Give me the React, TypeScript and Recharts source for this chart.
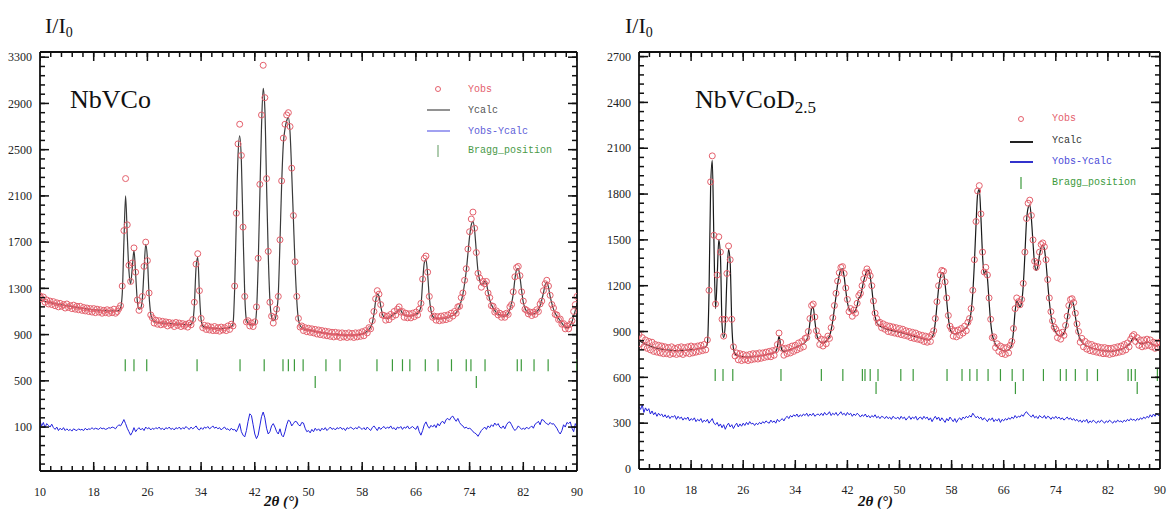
import React from "react";
import { ComposedChart, Line, Scatter, XAxis, YAxis } from "recharts";

// 2theta grid of the refinement: 10..90 in steps of 0.25
const START = 10;
const STEP = 0.25;

// ---------- NbVCo ----------
const calcNbVCo = [
  1200, 1196, 1192, 1188, 1185, 1182, 1178, 1174,
  1170, 1167, 1165, 1162, 1160, 1157, 1155, 1152,
  1150, 1147, 1145, 1142, 1140, 1137, 1135, 1132,
  1130, 1128, 1126, 1124, 1122, 1120, 1118, 1116,
  1115, 1114, 1113, 1112, 1110, 1109, 1108, 1107,
  1106, 1105, 1105, 1105, 1105, 1105, 1106, 1110,
  1130, 1250, 1700, 2100, 1760, 1450, 1340, 1480,
  1630, 1420, 1190, 1120, 1130, 1210, 1460, 1680,
  1560, 1240, 1080, 1030, 1012, 1008, 1005, 1003,
  1002, 1000, 999, 998, 997, 996, 995, 994,
  993, 992, 991, 990, 989, 988, 987, 986,
  985, 984, 990, 1010, 1160, 1480, 1570, 1260,
  1030, 975, 965, 962, 960, 958, 957, 956,
  955, 954, 953, 952, 952, 952, 953, 955,
  958, 962, 970, 990, 1300, 1900, 2450, 2620,
  2400, 1800, 1250, 1030, 1000, 990, 985, 985,
  990, 1100, 1500, 2100, 2700, 3030, 2850, 2200,
  1600, 1200, 1050, 1020, 1030, 1100, 1250, 1700,
  2200, 2550, 2680, 2750, 2780, 2650, 2300, 1900,
  1500, 1200, 1030, 980, 960, 950, 945, 942,
  940, 937, 934, 931, 928, 925, 922, 920,
  918, 915, 913, 911, 909, 907, 905, 903,
  902, 900, 899, 898, 897, 896, 895, 895,
  895, 895, 896, 897, 898, 899, 900, 903,
  906, 910, 918, 930, 945, 965, 1000, 1080,
  1190, 1250, 1235, 1150, 1080, 1050, 1040, 1040,
  1045, 1055, 1070, 1080, 1085, 1100, 1120, 1110,
  1085, 1070, 1065, 1060, 1060, 1062, 1065, 1070,
  1075, 1085, 1100, 1150, 1350, 1520, 1550, 1420,
  1220, 1110, 1060, 1045, 1040, 1038, 1037, 1037,
  1038, 1040, 1043, 1047, 1052, 1058, 1065, 1075,
  1090, 1110, 1150, 1190, 1250, 1340, 1450, 1600,
  1750, 1850, 1880, 1800, 1620, 1450, 1370, 1330,
  1340, 1360, 1340, 1270, 1200, 1160, 1130, 1110,
  1090, 1080, 1070, 1065, 1060, 1062, 1070, 1085,
  1120, 1170, 1250, 1380, 1460, 1470, 1400, 1280,
  1180, 1130, 1100, 1090, 1080, 1078, 1080, 1085,
  1100, 1115, 1150, 1200, 1260, 1330, 1350, 1310,
  1230, 1170, 1120, 1085, 1060, 1040, 1020, 1000,
  980, 965, 960, 962, 980, 1010, 1060, 1110,
  1160,
];

const obsNbVCo = [
  1235, 1210, 1225, 1180, 1200, 1165, 1190, 1160,
  1185, 1150, 1175, 1140, 1170, 1145, 1160, 1130,
  1165, 1135, 1150, 1125, 1155, 1120, 1145, 1115,
  1145, 1110, 1135, 1105, 1130, 1100, 1125, 1095,
  1125, 1090, 1120, 1095, 1115, 1085, 1110, 1090,
  1115, 1085, 1110, 1090, 1120, 1085, 1100, 1125,
  1150, 1320, 1800, 2250, 1850, 1500, 1360, 1520,
  1650, 1440, 1200, 1110, 1150, 1230, 1490, 1700,
  1540, 1260, 1070, 1045, 1000, 1025, 990, 1020,
  985, 1015, 990, 1010, 975, 1005, 985, 1000,
  970, 1005, 980, 1000, 970, 995, 975, 990,
  965, 1000, 985, 1030, 1180, 1510, 1600, 1280,
  1040, 960, 980, 945, 975, 940, 965, 935,
  970, 935, 960, 930, 965, 940, 960, 935,
  975, 945, 990, 975, 1320, 1950, 2550, 2720,
  2450, 1830, 1230, 1010, 1020, 975, 1000, 970,
  1010, 1140, 1560, 2200, 2800, 3230, 2950, 2250,
  1620, 1180, 1060, 1000, 1050, 1120, 1230, 1720,
  2230, 2600, 2720, 2800, 2820, 2700, 2340, 1930,
  1530, 1230, 1040, 965, 975, 935, 960, 925,
  955, 920, 950, 915, 945, 905, 940, 900,
  935, 895, 930, 890, 925, 885, 920, 880,
  920, 885, 915, 875, 915, 880, 910, 875,
  915, 880, 910, 875, 915, 880, 915, 885,
  925, 890, 935, 915, 960, 950, 1020, 1100,
  1210, 1280, 1250, 1160, 1070, 1065, 1025, 1060,
  1030, 1075, 1055, 1100, 1070, 1120, 1140, 1095,
  1100, 1050, 1085, 1045, 1080, 1045, 1085, 1055,
  1095, 1070, 1120, 1170, 1380, 1560, 1580, 1440,
  1230, 1120, 1050, 1060, 1025, 1055, 1020, 1060,
  1025, 1065, 1030, 1070, 1040, 1085, 1060, 1100,
  1085, 1140, 1145, 1220, 1260, 1370, 1470, 1640,
  1790, 1900, 1960, 1820, 1610, 1430, 1390, 1310,
  1360, 1340, 1360, 1260, 1220, 1150, 1145, 1095,
  1105, 1070, 1085, 1050, 1075, 1050, 1085, 1075,
  1140, 1160, 1270, 1400, 1480, 1490, 1410, 1270,
  1190, 1120, 1110, 1080, 1095, 1065, 1095, 1075,
  1115, 1100, 1165, 1190, 1280, 1340, 1370, 1320,
  1240, 1160, 1130, 1075, 1070, 1030, 1035, 990,
  995, 950, 975, 950, 990, 1020, 1100, 1160,
  1230,
];

// Yobs-Ycalc, drawn with its own offset (~100)
const diffNbVCo = [
  150, 110, 140, 95, 130, 115, 100, 125,
  95, 80, 100, 70, 90, 75, 95, 70,
  85, 70, 80, 65, 85, 75, 70, 85,
  75, 80, 70, 90, 75, 85, 80, 95,
  80, 90, 85, 80, 95, 85, 90, 80,
  85, 95, 90, 100, 95, 85, 105, 120,
  110, 135, 165, 130, 90, 60, 30, 55,
  95, 60, 80, 95, 75, 90, 70, 100,
  85, 95, 75, 90, 80, 95, 85, 100,
  80, 90, 75, 95, 85, 100, 80, 90,
  75, 95, 85, 100, 80, 95, 85, 105,
  90, 80, 100, 85, 95, 110, 85, 75,
  95, 80, 100, 90, 105, 85, 95, 110,
  90, 100, 85, 95, 75, 90, 100, 80,
  85, 70, 90, 75, 80, 60, 90, 130,
  60, 30, 15, 70, 150, 215, 200, 120,
  40, 0, 30, 110, 190, 230, 180, 90,
  40, 60, 110, 130, 100, 60, 40, 85,
  30, 15, 60, 120, 160, 150, 110, 130,
  150, 145, 120, 110, 140, 135, 90, 60,
  70, 50, 80, 60, 90, 70, 85, 65,
  90, 75, 95, 70, 85, 100, 80, 90,
  75, 95, 85, 100, 80, 90, 70, 95,
  85, 100, 90, 80, 95, 85, 105, 90,
  80, 95, 75, 100, 85, 70, 95, 110,
  90, 70, 100, 80, 95, 105, 85, 100,
  90, 110, 85, 95, 75, 100, 90, 105,
  80, 100, 90, 110, 85, 95, 105, 90,
  80, 110, 60, 30, 70, 120, 145, 110,
  90, 115, 100, 120, 95, 130, 110, 140,
  150, 130, 165, 175, 160, 185, 195, 170,
  150, 175, 140, 120, 110, 90, 100, 85,
  90, 80, 60, 50, 40, 20, 45, 70,
  85, 100, 80, 110, 95, 120, 105, 135,
  115, 130, 100, 90, 110, 85, 120, 140,
  145, 120, 90, 70, 85, 110, 95, 80,
  90, 80, 100, 85, 95, 110, 90, 125,
  135, 150, 120, 165, 160, 140, 130, 120,
  140, 125, 130, 110, 90, 60, 40, 70,
  120, 100, 140, 130, 145, 90, 60, 130,
  100,
];

const braggNbVCo = [
  22.7, 24.0, 25.9, 33.4, 39.8, 43.4, 46.2, 47.0, 47.9, 49.2, 52.6, 54.7,
  60.2, 62.5, 64.0, 65.1, 67.4, 69.3, 71.3, 73.5, 74.2, 76.3, 81.1, 81.7,
  83.6, 85.7, 90.0,
];
const braggNbVCo2 = [51.0, 75.0];

// ---------- NbVCoD2.5 ----------
const calcD = [
  840, 835, 828, 822, 816, 812, 808, 804,
  800, 797, 794, 791, 789, 787, 785, 783,
  781, 780, 779, 778, 777, 776, 775, 775,
  775, 775, 776, 776, 777, 778, 779, 780,
  781, 782, 783, 784, 786, 788, 790, 792,
  795, 800, 820, 1150, 1850, 2020, 1500, 1050,
  1250, 1500, 1400, 950, 860, 950, 1250, 1440,
  1350, 950, 790, 755, 745, 740, 738, 736,
  735, 734, 733, 733, 733, 734, 735, 736,
  737, 738, 740, 742, 744, 746, 748, 750,
  752, 755, 758, 762, 768, 800, 870, 810,
  775, 770, 772, 775, 778, 782, 786, 790,
  795, 800, 805, 810, 815, 820, 830, 845,
  880, 960, 1050, 1060, 970, 890, 850, 835,
  828, 826, 830, 838, 850, 870, 910, 970,
  1050, 1130, 1210, 1270, 1305, 1310, 1260, 1170,
  1090, 1050, 1030, 1020, 1025, 1040, 1070, 1120,
  1130, 1180, 1230, 1270, 1295, 1300, 1260, 1180,
  1080, 1000, 960, 945, 935, 930, 925, 920,
  915, 912, 910, 908, 905, 902, 900, 897,
  895, 892, 890, 887, 884, 881, 878, 875,
  872, 869, 866, 863, 860, 857, 855, 852,
  850, 848, 846, 850, 862, 890, 960, 1070,
  1180, 1250, 1285, 1280, 1210, 1100, 990, 920,
  895, 888, 885, 886, 890, 895, 900, 908,
  915, 925, 940, 970, 1030, 1150, 1350, 1600,
  1800, 1830, 1650, 1400, 1270, 1300, 1250, 1100,
  960, 880, 840, 815, 800, 790, 782, 778,
  775, 772, 775, 780, 790, 820, 900, 1030,
  1100, 1080, 1060, 1090, 1200, 1400, 1620, 1710,
  1730, 1640, 1480, 1340, 1300, 1330, 1400, 1450,
  1465, 1440, 1350, 1220, 1100, 1010, 950, 915,
  895, 880, 872, 870, 875, 890, 920, 980,
  1050, 1090, 1100, 1070, 1000, 930, 880, 850,
  832, 820, 812, 805, 800, 796, 792, 789,
  786, 783, 781, 779, 777, 775, 774, 773,
  772, 771, 771, 772, 773, 775, 777, 780,
  783, 787, 792, 798, 806, 815, 830, 850,
  862, 855, 840, 828, 822, 820, 822, 826,
  830, 828, 824, 818, 812, 808, 806, 808,
  812,
];

const obsD = [
  880, 820, 860, 800, 845, 790, 835, 780,
  830, 770, 815, 765, 810, 760, 805, 755,
  800, 755, 795, 750, 800, 755, 790, 750,
  795, 755, 800, 750, 795, 760, 800, 755,
  805, 760, 800, 765, 805, 770, 810, 775,
  815, 780, 845, 1170, 1880, 2050, 1530, 1080,
  1270, 1520, 1420, 980, 870, 980, 1280, 1460,
  1370, 980, 800, 740, 760, 715, 755, 710,
  750, 715, 745, 710, 750, 715, 755, 720,
  755, 720, 760, 725, 760, 730, 765, 735,
  770, 735, 775, 745, 780, 815, 890, 830,
  790, 745, 790, 755, 795, 760, 805, 770,
  810, 780, 825, 790, 835, 800, 855, 860,
  900, 985, 1070, 1080, 995, 905, 870, 815,
  850, 805, 845, 820, 870, 855, 925, 990,
  1070, 1150, 1230, 1285, 1320, 1325, 1280, 1185,
  1110, 1030, 1050, 1000, 1040, 1020, 1085, 1135,
  1150, 1200, 1245, 1285, 1310, 1290, 1265, 1200,
  1100, 1020, 985, 955, 960, 925, 950, 915,
  940, 900, 935, 895, 930, 890, 925, 885,
  920, 880, 915, 875, 905, 870, 900, 860,
  895, 855, 890, 850, 880, 845, 875, 835,
  870, 830, 865, 835, 880, 905, 985, 1095,
  1200, 1270, 1300, 1295, 1225, 1120, 1005, 935,
  915, 870, 905, 865, 910, 875, 920, 890,
  935, 905, 960, 985, 1050, 1170, 1370, 1620,
  1820, 1855, 1670, 1420, 1290, 1320, 1270, 1120,
  980, 860, 865, 795, 820, 770, 805, 755,
  795, 750, 795, 760, 810, 835, 920, 1050,
  1120, 1095, 1075, 1110, 1215, 1420, 1640, 1740,
  1760, 1660, 1500, 1360, 1320, 1350, 1420, 1470,
  1480, 1455, 1370, 1240, 1120, 1030, 970, 930,
  915, 860, 890, 850, 895, 875, 940, 1000,
  1070, 1110, 1115, 1090, 1020, 950, 900, 830,
  855, 800, 835, 785, 820, 775, 815, 770,
  805, 765, 800, 760, 795, 755, 795, 755,
  790, 750, 790, 755, 795, 760, 800, 765,
  805, 770, 815, 780, 825, 800, 850, 870,
  880, 835, 860, 810, 845, 800, 845, 805,
  850, 810, 845, 800, 830, 790, 825, 795,
  830,
];

const diffD = [
  410, 390, 420, 370, 400, 380, 395, 360,
  380, 355, 370, 345, 365, 350, 360, 340,
  355, 335, 350, 330, 345, 340, 350, 325,
  345, 330, 340, 320, 335, 325, 340, 315,
  330, 320, 335, 310, 325, 315, 330, 305,
  320, 310, 325, 300, 315, 330, 300, 290,
  305, 280, 295, 270, 290, 260, 285, 300,
  275, 290, 265, 285, 300, 275, 295, 280,
  300, 285, 305, 290, 310, 295, 300, 285,
  300, 290, 305, 295, 310, 300, 315, 305,
  300, 320, 305, 315, 300, 325, 310, 320,
  330, 315, 335, 345, 330, 350, 340, 355,
  345, 360, 340, 355, 345, 360, 350, 365,
  345, 360, 350, 365, 345, 355, 360, 350,
  365, 350, 370, 355, 360, 375, 350, 365,
  355, 370, 350, 360, 375, 355, 365, 350,
  370, 355, 365, 345, 360, 350, 365, 355,
  340, 355, 345, 360, 340, 350, 335, 350,
  340, 355, 335, 345, 330, 345, 340, 330,
  345, 330, 340, 325, 345, 335, 330, 340,
  325, 345, 330, 340, 320, 335, 345, 325,
  340, 330, 345, 320, 335, 340, 325, 345,
  330, 340, 320, 335, 310, 330, 345, 325,
  340, 315, 335, 320, 305, 330, 315, 340,
  325, 310, 330, 305, 325, 335, 320, 340,
  330, 345, 335, 350, 340, 365, 350, 335,
  345, 330, 340, 320, 335, 325, 310, 330,
  320, 335, 310, 325, 315, 330, 305, 325,
  315, 330, 320, 335, 325, 340, 330, 350,
  335, 345, 340, 355, 345, 365, 375, 360,
  350, 340, 355, 335, 345, 330, 350, 340,
  335, 350, 330, 345, 340, 325, 340, 330,
  345, 330, 340, 325, 335, 320, 330, 340,
  325, 335, 320, 330, 315, 325, 310, 320,
  305, 320, 310, 325, 300, 315, 305, 320,
  310, 300, 315, 305, 320, 310, 300, 315,
  305, 320, 310, 300, 315, 305, 320, 310,
  315, 305, 320, 310, 325, 315, 330, 320,
  325, 315, 330, 320, 335, 325, 340, 330,
  345, 335, 355, 340, 360, 345, 365, 350,
  355,
];

const braggD = [
  21.7, 22.9, 24.4, 31.8, 38.0, 41.3, 44.3, 44.7, 45.5, 46.7, 50.2, 52.1,
  57.3, 59.6, 60.8, 61.9, 63.6, 65.5, 67.3, 69.0, 72.1, 74.7, 75.6, 77.0,
  78.8, 80.4, 85.1, 85.6, 86.2, 89.6,
];
const braggD2 = [46.4, 67.8, 86.5];

// ---------- axes ----------
const xMajor = [10, 18, 26, 34, 42, 50, 58, 66, 74, 82, 90];
const xMinor = Array.from({ length: 51 }, (_, i) => Math.round((10 + i * 1.6) * 10) / 10);
const yMajorNbVCo = [100, 500, 900, 1300, 1700, 2100, 2500, 2900, 3300];
const yMinorNbVCo = Array.from({ length: 45 }, (_, i) => -220 + i * 80);
const yMajorD = [0, 300, 600, 900, 1200, 1500, 1800, 2100, 2400, 2700];
const yMinorD = Array.from({ length: 46 }, (_, i) => i * 60);

const SERIF = '"Liberation Serif", "Times New Roman", serif';
const MONO = '"Liberation Mono", "DejaVu Sans Mono", monospace';
const AXIS = { stroke: "#111", strokeWidth: 1.8 };
const LABEL = { fontFamily: SERIF, fontSize: 12, fill: "#222" };

const toRows = (calc: number[], obs: number[], diff: number[]) =>
  calc.map((c, i) => ({ x: START + i * STEP, calc: c, obs: obs[i], diff: diff[i] }));

const obsShape = (p: any) => (
  <circle cx={p.cx} cy={p.cy} r={3} fill="none" stroke="#e4606c" strokeWidth={1} />
);
const braggShape = (p: any) => (
  <line x1={p.cx} x2={p.cx} y1={p.cy - 6} y2={p.cy + 6} stroke="#3c9a3c" strokeWidth={1.2} />
);

// inward tick marks of the frame, drawn at the frame's data coordinates
type Dir = "up" | "down" | "right" | "left";
const tickShape = (dir: Dir, len: number) => (p: any) => {
  const { cx, cy } = p;
  const dx = dir === "right" ? len : dir === "left" ? -len : 0;
  const dy = dir === "down" ? len : dir === "up" ? -len : 0;
  return <line x1={cx} y1={cy} x2={cx + dx} y2={cy + dy} stroke="#111" strokeWidth={1.5} />;
};

type PanelProps = {
  width: number;
  height: number;
  margin: { top: number; right: number; bottom: number; left: number };
  calc: number[];
  obs: number[];
  diff: number[];
  bragg: number[];
  bragg2: number[];
  braggY: [number, number];
  yDomain: [number, number];
  yMajor: number[];
  yMinor: number[];
  calcColor: string;
};

// every axis takes 1px, so margins = plot box - 1
function Panel(p: PanelProps) {
  const rows = toRows(p.calc, p.obs, p.diff);
  const b1 = p.bragg.map((x) => ({ x, y: p.braggY[0] }));
  const b2 = p.bragg2.map((x) => ({ x, y: p.braggY[1] }));
  const [y0, y1] = p.yDomain;
  const tb = xMajor.map((x) => ({ x, y: y0 }));
  const tbm = xMinor.map((x) => ({ x, y: y0 }));
  const tt = xMajor.map((x) => ({ x, y: y1 }));
  const ttm = xMinor.map((x) => ({ x, y: y1 }));
  const tl = p.yMajor.map((y) => ({ x: 10, y }));
  const tlm = p.yMinor.map((y) => ({ x: 10, y }));
  const tr = p.yMajor.map((y) => ({ x: 90, y }));
  const trm = p.yMinor.map((y) => ({ x: 90, y }));
  return (
    <ComposedChart width={p.width} height={p.height} data={rows} margin={p.margin}>
      <XAxis
        dataKey="x"
        type="number"
        domain={[10, 90]}
        allowDataOverflow
        ticks={xMajor}
        interval={0}
        height={1}
        tickSize={0}
        tickLine={false}
        tickMargin={16}
        axisLine={AXIS}
        tick={LABEL}
      />
      <XAxis
        xAxisId="top"
        orientation="top"
        dataKey="x"
        type="number"
        domain={[10, 90]}
        allowDataOverflow
        height={1}
        tickLine={false}
        axisLine={AXIS}
        tick={false}
      />
      <YAxis
        type="number"
        domain={p.yDomain}
        allowDataOverflow
        ticks={p.yMajor}
        interval={0}
        width={1}
        tickSize={0}
        tickLine={false}
        tickMargin={8}
        axisLine={AXIS}
        tick={LABEL}
      />
      <YAxis
        yAxisId="right"
        orientation="right"
        type="number"
        domain={p.yDomain}
        allowDataOverflow
        width={1}
        tickLine={false}
        axisLine={AXIS}
        tick={false}
      />
      <Scatter dataKey="obs" shape={obsShape} isAnimationActive={false} />
      <Line
        type="monotone"
        dataKey="calc"
        stroke={p.calcColor}
        strokeWidth={1.2}
        dot={false}
        isAnimationActive={false}
      />
      <Line
        type="linear"
        dataKey="diff"
        stroke="#2222dd"
        strokeWidth={1}
        dot={false}
        isAnimationActive={false}
      />
      <Scatter data={b1} dataKey="y" shape={braggShape} isAnimationActive={false} />
      <Scatter data={b2} dataKey="y" shape={braggShape} isAnimationActive={false} />
      <Scatter data={tbm} dataKey="y" shape={tickShape("up", 5)} isAnimationActive={false} />
      <Scatter data={tb} dataKey="y" shape={tickShape("up", 9)} isAnimationActive={false} />
      <Scatter data={ttm} dataKey="y" shape={tickShape("down", 5)} isAnimationActive={false} />
      <Scatter data={tt} dataKey="y" shape={tickShape("down", 9)} isAnimationActive={false} />
      <Scatter data={tlm} dataKey="y" shape={tickShape("right", 5)} isAnimationActive={false} />
      <Scatter data={tl} dataKey="y" shape={tickShape("right", 9)} isAnimationActive={false} />
      <Scatter data={trm} dataKey="y" shape={tickShape("left", 5)} isAnimationActive={false} />
      <Scatter data={tr} dataKey="y" shape={tickShape("left", 9)} isAnimationActive={false} />
    </ComposedChart>
  );
}

function Overlay() {
  return (
    <svg
      width={1170}
      height={509}
      style={{ position: "absolute", left: 0, top: 0, pointerEvents: "none" }}
    >
      {/* left panel */}
      <text x={45} y={33} fontFamily={SERIF} fontSize={22} fill="#111">
        I/I<tspan fontSize={14} dy={4}>0</tspan>
      </text>
      <text x={70} y={108} fontFamily={SERIF} fontSize={26} fill="#111">
        NbVCo
      </text>
      <circle cx={438} cy={89} r={2.5} fill="none" stroke="#e4606c" />
      <text x={468} y={92} fontFamily={MONO} fontSize={10} fill="#e4606c">Yobs</text>
      <line x1={427} x2={450} y1={110} y2={110} stroke="#777" strokeWidth={1.6} />
      <text x={468} y={113} fontFamily={MONO} fontSize={10} fill="#555">Ycalc</text>
      <line x1={427} x2={450} y1={131} y2={131} stroke="#8a8aee" strokeWidth={1.6} />
      <text x={468} y={134} fontFamily={MONO} fontSize={10} fill="#6060d8">Yobs-Ycalc</text>
      <line x1={438} x2={438} y1={145} y2={157} stroke="#7aaa7a" strokeWidth={1.2} />
      <text x={468} y={153} fontFamily={MONO} fontSize={10} fill="#4a9a4a">Bragg_position</text>
      <text x={264} y={506} fontFamily={SERIF} fontSize={15} fontWeight="bold" fontStyle="italic" fill="#111">
        2θ (°)
      </text>

      {/* right panel */}
      <text x={625} y={33} fontFamily={SERIF} fontSize={22} fill="#111">
        I/I<tspan fontSize={14} dy={4}>0</tspan>
      </text>
      <text x={695} y={108} fontFamily={SERIF} fontSize={26} fill="#111">
        NbVCoD<tspan fontSize={17} dy={5}>2.5</tspan>
      </text>
      <circle cx={1021} cy={119} r={2.5} fill="none" stroke="#e4606c" />
      <text x={1052} y={121} fontFamily={MONO} fontSize={10} fill="#e4606c">Yobs</text>
      <line x1={1010} x2={1033} y1={142} y2={142} stroke="#222" strokeWidth={2} />
      <text x={1052} y={143} fontFamily={MONO} fontSize={10} fill="#333">Ycalc</text>
      <line x1={1010} x2={1033} y1={162} y2={162} stroke="#3333cc" strokeWidth={2} />
      <text x={1052} y={164} fontFamily={MONO} fontSize={10} fill="#4a4ad8">Yobs-Ycalc</text>
      <line x1={1021} x2={1021} y1={177} y2={189} stroke="#3c9a3c" strokeWidth={1.2} />
      <text x={1052} y={185} fontFamily={MONO} fontSize={10} fill="#3c9a3c">Bragg_position</text>
      <text x={858} y={506} fontFamily={SERIF} fontSize={15} fontWeight="bold" fontStyle="italic" fill="#111">
        2θ (°)
      </text>
    </svg>
  );
}

export default function App() {
  return (
    <div style={{ position: "absolute", left: 0, top: 0, width: 1170, height: 509, background: "#fff" }}>
      <div style={{ position: "absolute", left: 0, top: 0 }}>
        <Panel
          width={600}
          height={509}
          margin={{ top: 51, right: 22, bottom: 37, left: 39 }}
          calc={calcNbVCo}
          obs={obsNbVCo}
          diff={diffNbVCo}
          bragg={braggNbVCo}
          bragg2={braggNbVCo2}
          braggY={[635, 490]}
          yDomain={[-280, 3345]}
          yMajor={yMajorNbVCo}
          yMinor={yMinorNbVCo}
          calcColor="#3a3a3a"
        />
      </div>
      <div style={{ position: "absolute", left: 590, top: 0 }}>
        <Panel
          width={580}
          height={509}
          margin={{ top: 51, right: 9, bottom: 39, left: 48 }}
          calc={calcD}
          obs={obsD}
          diff={diffD}
          bragg={braggD}
          bragg2={braggD2}
          braggY={[615, 530]}
          yDomain={[0, 2730]}
          yMajor={yMajorD}
          yMinor={yMinorD}
          calcColor="#1a1a1a"
        />
      </div>
      <Overlay />
    </div>
  );
}
